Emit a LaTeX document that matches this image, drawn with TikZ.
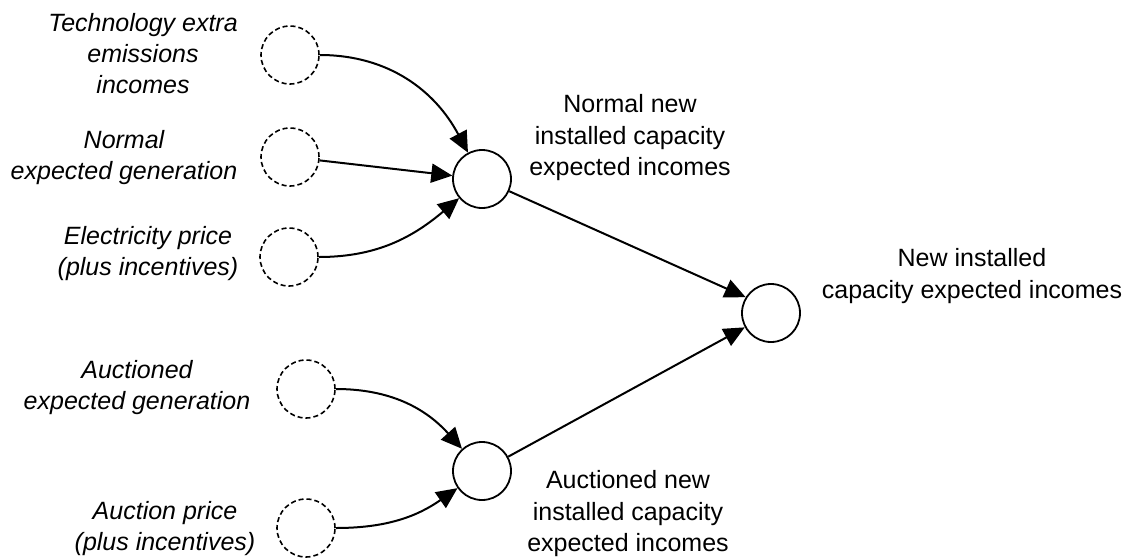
\documentclass[tikz,border=0pt]{standalone}
\usepackage{fontspec}
\setmainfont{Liberation Sans}
\usetikzlibrary{arrows.meta}
\begin{document}
\begin{tikzpicture}[x=1pt,y=1pt,
  var/.style={circle,draw,line width=1.8pt,minimum size=58pt,inner sep=0pt},
  ext/.style={var,line width=1.6pt,dash pattern=on 5pt off 3pt},
  lbl/.style={align=center,inner sep=0pt,font=\fontsize{25}{31.5}\selectfont},
  ilbl/.style={align=center,inner sep=0pt,font=\fontsize{25}{31}\selectfont\itshape},
  link/.style={line width=2pt,-{Triangle[length=21pt,width=19pt]}}]
\useasboundingbox (0,-558) rectangle (1130,0);

% exogenous inputs (dashed)
\node[ext] (tech) at (290,-55) {};
\node[ext] (ngen) at (290,-157) {};
\node[ext] (eprice) at (289,-257) {};
\node[ext] (agen) at (306,-389) {};
\node[ext] (aprice) at (306,-528) {};

% computed variables
\node[var] (nni) at (482,-179) {};
\node[var] (ani) at (482,-471) {};
\node[var] (total) at (771,-313) {};

% labels
\node[ilbl] (techL) at (143,-54) {Technology extra\\emissions\\incomes};
\node[ilbl] (ngenL) at (124,-158) {Normal\\expected generation};
\node[ilbl] (epriceL) at (148,-254) {Electricity price\\(plus incentives)};
\node[ilbl] (agenL) at (137,-388) {Auctioned\\expected generation};
\node[ilbl] (apriceL) at (165,-529) {Auction price\\(plus incentives)};
\node[lbl] (nniL) at (630,-138) {Normal new\\installed capacity\\expected incomes};
\node[lbl] (aniL) at (628,-514) {Auctioned new\\installed capacity\\expected incomes};
\node[lbl] (totalL) at (972,-276) {New installed\\capacity expected incomes};

% influences
\draw[link] (tech) to[out=0,in=118] (nni);
\draw[link] (ngen) -- (nni);
\draw[link] (eprice) to[out=0,in=-140] (nni);
\draw[link] (agen) to[out=0,in=132] (ani);
\draw[link] (aprice) to[out=0,in=-145] (ani);
\draw[link] (nni) -- (total.148);
\draw[link] (ani) -- (total);
\end{tikzpicture}
\end{document}
